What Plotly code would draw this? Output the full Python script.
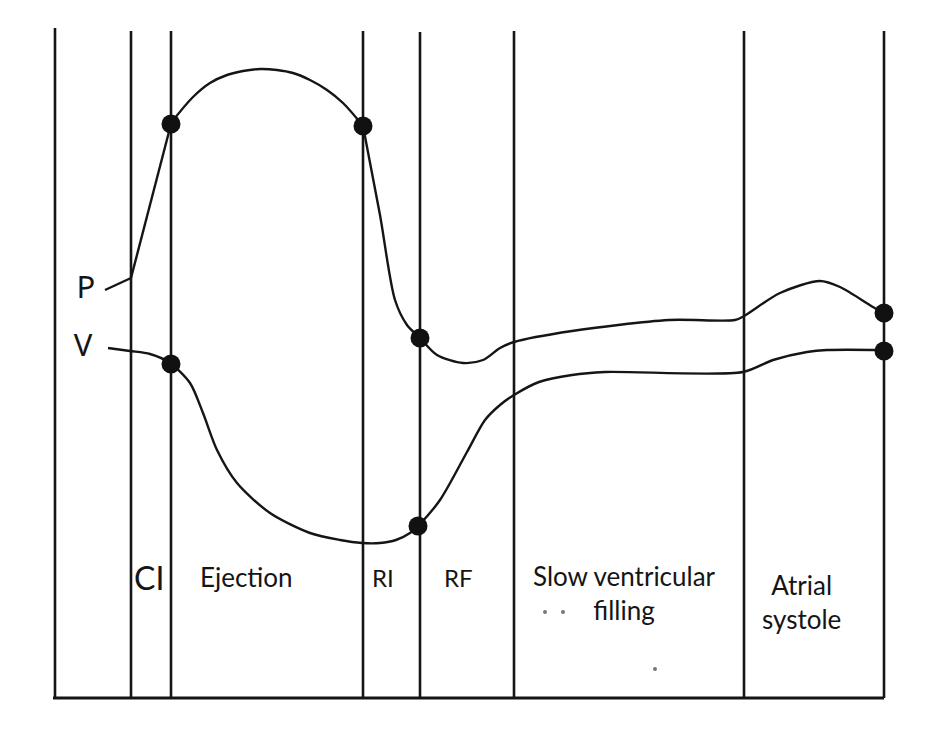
import plotly.graph_objects as go

# Phase boundaries (time axis, px-like units)
boundary_x = [55, 131, 171, 363, 420, 514, 744, 884]
boundary_top = [717, 714, 714, 714, 713, 714, 714, 714]
base_y = 47

# Pressure curve (P)
p_lead_x = [105, 131]
p_lead_y = [455, 467]
p_rise_x = [131, 171]
p_rise_y = [467, 621]
p_arc_x = [171, 193, 210, 227, 243, 260, 277, 293, 310, 327, 343, 363]
p_arc_y = [622, 648, 662, 670, 674, 676, 675, 672, 665, 655, 642, 619]
p_tail_x = [363, 380, 395, 407, 420, 437, 463, 483, 500, 514, 572, 669, 735, 744, 780, 820, 840, 873, 884]
p_tail_y = [619, 530, 445, 420, 407, 390, 382, 385, 397, 403, 414, 425, 425, 429, 452, 464, 458, 438, 432]

# Volume curve (V)
v_x = [108, 130, 150, 170, 190, 203, 217, 237, 270, 310, 340, 362, 380, 396, 410, 418, 440, 467, 485, 500, 514, 539, 572, 605, 743, 773, 807, 827, 884]
v_y = [397, 394, 391, 382, 362, 332, 295, 262, 232, 212, 205, 202, 202, 205, 212, 219, 245, 293, 325, 340, 350, 363, 370, 373, 373, 385, 393, 395, 395]

# Key points (valve events)
dot_x = [171, 363, 420, 884, 171, 418, 884]
dot_y = [621, 619, 407, 432, 381, 219, 394]

# Faint specks in the scan
speck_x = [545, 563, 655]
speck_y = [133, 133, 76]

# Labels
curve_labels = ["P", "V"]
curve_label_x = [86, 83]
curve_label_y = [455, 397]
phase_labels = ["CI", "Ejection", "RI", "RF", "Slow ventricular<br>filling", "Atrial<br>systole"]
phase_label_x = [149, 246, 383, 458, 624, 801]
phase_label_y = [168, 168, 168, 168, 152, 143]
phase_label_size = [32, 26, 24, 24, 26, 26]

ink = "#151515"
fig = go.Figure()

for bx, bt in zip(boundary_x, boundary_top):
    fig.add_trace(go.Scatter(x=[bx, bx], y=[base_y, bt], mode="lines",
                             line=dict(color=ink, width=2.6), hoverinfo="skip"))
fig.add_trace(go.Scatter(x=[boundary_x[0] - 2, boundary_x[-1]], y=[base_y, base_y], mode="lines",
                         line=dict(color=ink, width=3), hoverinfo="skip"))

fig.add_trace(go.Scatter(x=p_lead_x, y=p_lead_y, mode="lines", line=dict(color=ink, width=2.4)))
fig.add_trace(go.Scatter(x=p_rise_x, y=p_rise_y, mode="lines", line=dict(color=ink, width=2.4)))
fig.add_trace(go.Scatter(x=p_arc_x, y=p_arc_y, mode="lines", line=dict(color=ink, width=2.4, shape="spline", smoothing=1)))
fig.add_trace(go.Scatter(x=p_tail_x, y=p_tail_y, mode="lines", line=dict(color=ink, width=2.4, shape="spline", smoothing=0.8)))
fig.add_trace(go.Scatter(x=v_x, y=v_y, mode="lines", line=dict(color=ink, width=2.4, shape="spline", smoothing=0.8)))

fig.add_trace(go.Scatter(x=dot_x, y=dot_y, mode="markers", marker=dict(color="#111111", size=19)))
fig.add_trace(go.Scatter(x=speck_x, y=speck_y, mode="markers", marker=dict(color="#777777", size=4)))

fig.add_trace(go.Scatter(x=curve_label_x, y=curve_label_y, mode="text", text=curve_labels,
                         textfont=dict(family="Noto Sans", size=31, color=ink)))
for t, tx, ty, ts in zip(phase_labels, phase_label_x, phase_label_y, phase_label_size):
    fig.add_annotation(x=tx, y=ty, text=t, showarrow=False, xanchor="center", yanchor="middle",
                       font=dict(family="Lato", size=ts, color=ink), align="center")

# page body has an 8px margin; shift axis ranges so drawing lands on the same pixels
fig.update_layout(
    width=945, height=745, margin=dict(l=0, r=0, t=0, b=0),
    paper_bgcolor="white", plot_bgcolor="white", showlegend=False,
    xaxis=dict(range=[8, 953], visible=False, fixedrange=True),
    yaxis=dict(range=[-8, 737], visible=False, fixedrange=True),
)
fig.write_html("out.html")
